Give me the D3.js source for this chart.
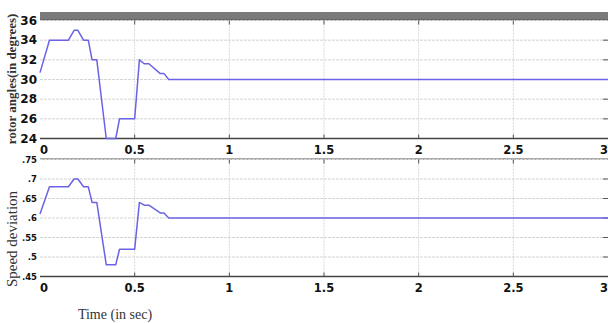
<!DOCTYPE html>
<html>
<head>
<meta charset="utf-8">
<script src="https://cdn.jsdelivr.net/npm/d3@7"></script>
<style>
  body { margin: 0; background: #fff; }
  svg { display: block; }
</style>
</head>
<body>
<div id="chart"></div>
<script>
const times = [0, 0.05, 0.15, 0.18, 0.2, 0.23, 0.255, 0.275, 0.3, 0.35, 0.4, 0.42, 0.5, 0.525, 0.55, 0.575, 0.635, 0.655, 0.68, 3];
const rotorAngle = [30.7, 34, 34, 35, 35, 34, 34, 32, 32, 24, 24, 26, 26, 32, 31.6, 31.6, 30.6, 30.6, 30, 30];
const speedDev = [0.61, 0.68, 0.68, 0.70, 0.70, 0.68, 0.68, 0.64, 0.64, 0.48, 0.48, 0.52, 0.52, 0.64, 0.633, 0.633, 0.613, 0.613, 0.60, 0.60];

const xTicks = [0, 0.5, 1, 1.5, 2, 2.5, 3];
const xTickLabels = ["0", "0.5", "1", "1.5", "2", "2.5", "3"];
const angleTicks = [24, 26, 28, 30, 32, 34, 36];
const speedTicks = [0.45, 0.5, 0.55, 0.6, 0.65, 0.7, 0.75];
const speedTickLabels = [".45", ".5", ".55", ".6", ".65", ".7", ".75"];

const width = 608, height = 323;
const svg = d3.select("#chart").append("svg")
  .attr("width", width).attr("height", height);

const x = d3.scaleLinear().domain([0, 3]).range([40, 608]);

const lineColor = "#6b63e6";

const drawPanel = (opts) => {
  const { y, values, ticks, labels, fontSize, top, bottom } = opts;
  const g = svg.append("g");

  // horizontal grid
  g.selectAll("line.hg").data(ticks).join("line")
    .attr("x1", 40).attr("x2", 608)
    .attr("y1", (d) => y(d)).attr("y2", (d) => y(d))
    .attr("stroke", "#d4d4d4").attr("stroke-width", 1)
    .attr("stroke-dasharray", "3,1");

  // vertical grid
  g.selectAll("line.vg").data(xTicks.slice(1, -1)).join("line")
    .attr("x1", (d) => x(d)).attr("x2", (d) => x(d))
    .attr("y1", top).attr("y2", bottom)
    .attr("stroke", "#d8d8d8").attr("stroke-width", 1)
    .attr("stroke-dasharray", "2,1");

  // small ticks on vertical grid ends
  g.selectAll("line.vt").data(xTicks.slice(1, -1)).join("line")
    .attr("x1", (d) => x(d)).attr("x2", (d) => x(d))
    .attr("y1", top).attr("y2", top + 4)
    .attr("stroke", "#555");
  g.selectAll("line.vb").data(xTicks.slice(1, -1)).join("line")
    .attr("x1", (d) => x(d)).attr("x2", (d) => x(d))
    .attr("y1", bottom - 4).attr("y2", bottom)
    .attr("stroke", "#555");

  // right side ticks
  g.selectAll("line.rt").data(ticks.slice(1, -1)).join("line")
    .attr("x1", 603).attr("x2", 608)
    .attr("y1", (d) => y(d)).attr("y2", (d) => y(d))
    .attr("stroke", "#555");

  // bottom border
  g.append("line")
    .attr("x1", 40).attr("x2", 608)
    .attr("y1", bottom).attr("y2", bottom)
    .attr("stroke", "#444").attr("stroke-width", 1.6);

  // y tick labels
  g.selectAll("text.yl").data(ticks).join("text")
    .attr("x", 37).attr("y", (d) => y(d))
    .attr("text-anchor", "end")
    .attr("dominant-baseline", "central")
    .style("font-family", "DejaVu Sans, sans-serif")
    .style("font-weight", "bold")
    .style("font-size", fontSize + "px")
    .attr("fill", "#111")
    .text((d, i) => labels[i]);

  // x tick labels
  g.selectAll("text.xl").data(xTicks).join("text")
    .attr("x", (d, i) => (i === xTicks.length - 1 ? 608 : x(d)))
    .attr("y", bottom + 11)
    .attr("text-anchor", (d, i) => (i === 0 ? "start" : i === xTicks.length - 1 ? "end" : "middle"))
    .attr("dominant-baseline", "central")
    .style("font-family", "DejaVu Sans, sans-serif")
    .style("font-weight", "bold")
    .style("font-size", "11.5px")
    .attr("fill", "#111")
    .text((d, i) => xTickLabels[i]);

  // series line
  const line = d3.line()
    .x((d) => x(d[0]))
    .y((d) => y(d[1]));
  g.append("path")
    .datum(times.map((t, i) => [t, values[i]]))
    .attr("d", line)
    .attr("fill", "none")
    .attr("stroke", lineColor)
    .attr("stroke-width", 1.5)
    .attr("stroke-linejoin", "round");

  return g;
};

// top panel
const yAngle = d3.scaleLinear().domain([24, 36]).range([138.5, 20.5]);
svg.append("rect")
  .attr("x", 40).attr("y", 12).attr("width", 568).attr("height", 8)
  .attr("fill", "#7a7a7a");
svg.append("line")
  .attr("x1", 40).attr("x2", 608).attr("y1", 20).attr("y2", 20)
  .attr("stroke", "#555").attr("stroke-width", 1);
drawPanel({ y: yAngle, values: rotorAngle, ticks: angleTicks, labels: angleTicks.map(String), fontSize: 12, top: 20.5, bottom: 138.5 });

// bottom panel
const ySpeed = d3.scaleLinear().domain([0.45, 0.75]).range([276.5, 159.5]);
svg.append("line")
  .attr("x1", 40).attr("x2", 608).attr("y1", 159).attr("y2", 159)
  .attr("stroke", "#555").attr("stroke-width", 1.2);
drawPanel({ y: ySpeed, values: speedDev, ticks: speedTicks, labels: speedTickLabels, fontSize: 8.5, top: 159.5, bottom: 276.5 });

// axis titles
svg.append("text")
  .attr("transform", "translate(16,79) rotate(-90)")
  .attr("text-anchor", "middle")
  .style("font-family", "Liberation Serif, serif")
  .style("font-weight", "bold")
  .style("font-size", "13px")
  .attr("fill", "#333")
  .text("rotor angles(in  degrees)");

svg.append("text")
  .attr("transform", "translate(17,239) rotate(-90)")
  .attr("text-anchor", "middle")
  .style("font-family", "Liberation Serif, serif")
  .style("font-size", "15px")
  .attr("fill", "#333")
  .text("Speed deviation");

svg.append("text")
  .attr("x", 115).attr("y", 319)
  .attr("text-anchor", "middle")
  .style("font-family", "Liberation Serif, serif")
  .style("font-size", "14px")
  .attr("fill", "#333")
  .text("Time (in sec)");
</script>
</body>
</html>
